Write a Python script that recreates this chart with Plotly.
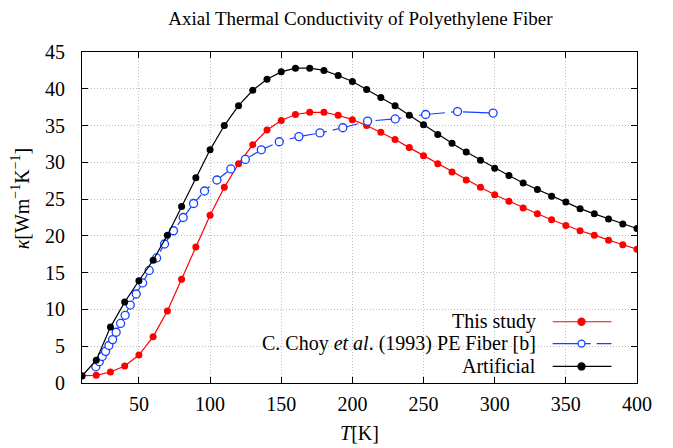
import plotly.graph_objects as go

# temperature grid of the two computed curves (K)
temps = list(range(10, 410, 10))

this_study = [1.0, 1.05, 1.5, 2.3, 3.8, 6.3, 9.8, 14.1, 18.5, 22.8,
              26.6, 29.8, 32.4, 34.4, 35.7, 36.5, 36.8, 36.8, 36.4, 35.8,
              35.0, 34.1, 33.1, 32.0, 30.9, 29.8, 28.7, 27.6, 26.6, 25.6,
              24.7, 23.8, 23.0, 22.2, 21.4, 20.7, 20.1, 19.4, 18.8, 18.2]

artificial = [0.95, 3.1, 7.6, 11.0, 13.9, 16.7, 20.1, 24.0, 27.9, 31.7,
              35.0, 37.7, 39.8, 41.3, 42.3, 42.8, 42.8, 42.5, 41.8, 41.0,
              39.9, 38.8, 37.7, 36.4, 35.1, 33.8, 32.6, 31.4, 30.3, 29.2,
              28.2, 27.2, 26.3, 25.4, 24.6, 23.7, 23.0, 22.3, 21.6, 21.0]

# C. Choy et al. (1993) measured points
choy_t = [19.7, 22.1, 24.2, 26.6, 28.9, 31.5, 34.0, 37.1, 40.3, 43.9,
          48.1, 52.6, 57.2, 62.4, 68.0, 74.3, 81.1, 88.4, 96.1, 104.8,
          114.6, 124.8, 136.0, 148.6, 162.4, 177.2, 193.3, 210.7, 230.1,
          251.5, 273.9, 298.9]
choy_k = [2.2, 2.9, 3.6, 4.3, 5.1, 5.9, 6.9, 8.1, 9.2, 10.6,
          12.1, 13.6, 15.3, 17.0, 18.9, 20.7, 22.5, 24.4, 26.1, 27.6,
          29.1, 30.4, 31.7, 32.8, 33.5, 34.0, 34.7, 35.6, 35.9,
          36.5, 36.9, 36.7]

x_ticks = [50, 100, 150, 200, 250, 300, 350, 400]
y_ticks = [0, 5, 10, 15, 20, 25, 30, 35, 40, 45]

labels = ["This study",
          "C. Choy <i>et al</i>. (1993) PE Fiber [b]",
          "Artificial"]

RED = "#ff0000"
BLUE = "#1440ff"
BLACK = "#000000"
BLUE_DASH = "26px,6px,6px,6px"
FONT = "Liberation Serif"

fig = go.Figure()
fig.add_trace(go.Scatter(x=temps, y=this_study, mode="lines+markers",
                         line=dict(color=RED, width=1.2),
                         marker=dict(size=7, color=RED), name=labels[0]))
fig.add_trace(go.Scatter(x=choy_t, y=choy_k, mode="lines+markers",
                         line=dict(color=BLUE, width=1.2, dash=BLUE_DASH),
                         marker=dict(size=8, color="white", symbol="circle",
                                     line=dict(color=BLUE, width=1.3)),
                         name=labels[1]))
fig.add_trace(go.Scatter(x=temps, y=artificial, mode="lines+markers",
                         line=dict(color=BLACK, width=1.2),
                         marker=dict(size=7, color=BLACK), name=labels[2]))

# hand-made legend: right-aligned text, sample to the right
rows = [0.185, 0.119, 0.050]
styles = [(RED, "solid", True), (BLUE, BLUE_DASH, False), (BLACK, "solid", True)]
for lab, yy, (col, dash, filled) in zip(labels, rows, styles):
    fig.add_annotation(x=0.822, y=yy, xref="paper", yref="paper", text=lab,
                       showarrow=False, xanchor="right", yanchor="middle",
                       font=dict(family=FONT, size=20, color="black"))
    fig.add_shape(type="line", xref="paper", yref="paper", x0=0.848, x1=0.954,
                  y0=yy, y1=yy, line=dict(color=col, width=1.2, dash=dash))
    fig.add_shape(type="circle", xref="paper", yref="paper",
                  xsizemode="pixel", ysizemode="pixel", xanchor=0.9, yanchor=yy,
                  x0=-3.5, x1=3.5, y0=-3.5, y1=3.5,
                  fillcolor=col if filled else "white",
                  line=dict(color=col, width=1.3))

# y axis title placed by hand (it sits a bit above the plot centre)
fig.add_annotation(x=-0.111, y=0.559, xref="paper", yref="paper",
                   text="<i>κ</i>[Wm<sup>−1</sup>K<sup>−1</sup>]", textangle=-90,
                   showarrow=False, xanchor="center", yanchor="middle",
                   font=dict(family=FONT, size=20, color="black"))

axis_common = dict(showline=True, linecolor="black", linewidth=1, mirror="allticks",
                   ticks="inside", ticklen=6, tickcolor="black", automargin=False,
                   showgrid=True, gridcolor="#bdbdbd", griddash="1px,2px", gridwidth=1,
                   zeroline=False, tickfont=dict(family=FONT, size=20, color="black"))

fig.update_xaxes(range=[10, 400], tickvals=x_ticks, ticklabelstandoff=3,
                 title=dict(text="<i>T</i>[K]", font=dict(family=FONT, size=20), standoff=11),
                 **axis_common)
fig.update_yaxes(range=[0, 45], tickvals=y_ticks, ticklabelstandoff=12,
                 **axis_common)

fig.update_layout(
    width=665, height=440,
    margin=dict(l=74, r=36, t=44, b=65),
    title=dict(text="Axial Thermal Conductivity of Polyethylene Fiber",
               x=0.53, xanchor="center", y=0.992, yref="container", yanchor="top",
               font=dict(family=FONT, size=19, color="black")),
    showlegend=False,
    plot_bgcolor="white", paper_bgcolor="white",
    font=dict(family=FONT, color="black"),
)

fig.write_html("out.html")
